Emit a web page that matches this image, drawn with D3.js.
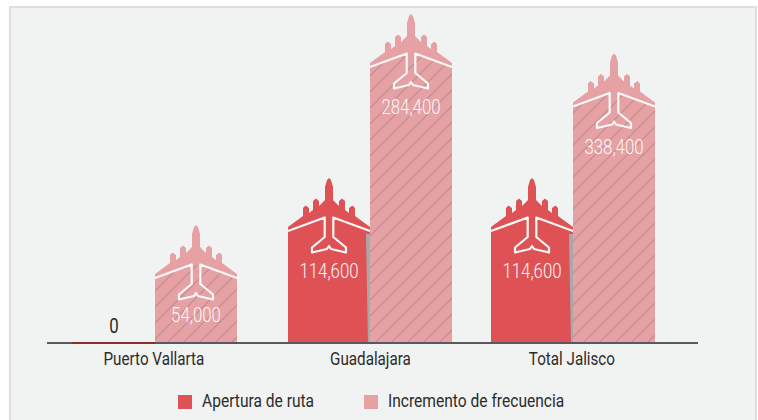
<!DOCTYPE html>
<html>
<head>
<meta charset="utf-8">
<script src="https://cdn.jsdelivr.net/npm/d3@7"></script>
<style>
  html, body { margin: 0; padding: 0; background: #fff; }
  svg { display: block; }
  text { font-family: Roboto, "Liberation Sans", sans-serif; }
</style>
</head>
<body>
<svg id="chart" width="758" height="420"></svg>
<script>
const categories = ["Puerto Vallarta", "Guadalajara", "Total Jalisco"];
const seriesNames = ["Apertura de ruta", "Incremento de frecuencia"];

// printed labels
const aperturaLabels = [0, 114600, 114600];
const incrementoLabels = [54000, 284400, 338400];

// drawn heights; the source art is not proportional to its labels
const aperturaLevels = [0, 112000, 112000];
const incrementoLevels = [65000, 276000, 236500];

const red = "#de5256";
const pink = "#e6a1a4";
const panelColor = "#f1f3f2";
const inkColor = "#2b2b2b";
const whiteInk = "#fbf8f8";

const svg = d3.select("#chart");
const baseline = 343;

// groups are not evenly spaced in the source
const x0 = d3.scaleOrdinal().domain(categories).range([155, 370, 573]);
const x1 = d3.scaleBand().domain(seriesNames).range([-82, 82]);
const y = d3.scaleLinear().domain([0, 300000]).range([baseline, baseline - 300]);
const fmt = d3.format(",");

// panel
svg.append("rect")
  .attr("x", 10).attr("y", 7).attr("width", 746).attr("height", 420)
  .attr("fill", panelColor).attr("stroke", "#dedede").attr("stroke-width", 2);

// hatch
const pattern = svg.append("defs").append("pattern")
  .attr("id", "hatch")
  .attr("patternUnits", "userSpaceOnUse")
  .attr("patternTransform", "translate(14,0)")
  .attr("width", 16).attr("height", 16);
pattern.append("path")
  .attr("d", "M-4,4L4,-4M0,16L16,0M12,20L20,12")
  .attr("stroke", "#b98b8f").attr("stroke-width", 1.1).attr("fill", "none");

// plane parts, relative to bar center and wing tip height
const halfW = 41;
const silhouette = [[-41, -4], [-26, -15], [-26, -23], [-23.5, -25.5], [-20, -23], [-20, -18], [-16, -21], [-16, -30], [-13, -32.5], [-10, -30], [-10, -25], [-4, -31], [-4, -44], [-2, -51], [0, -53]];
const outline = [[-41, 0], [-4.3, -13.5], [-4.3, 6], [-17, 16.5], [-17, 21.5], [-2, 18], [0, 15]];
const hatchTop = [[-41, 0], [-4, -13], [4, -13], [41, 0]];
const mirror = pts => pts.concat(pts.slice(0, -1).reverse().map(p => [-p[0], p[1]]));
const line = d3.line();

function drawBar(g, cx, level, color, hatched) {
  const top = y(level);
  const shift = pts => pts.map(p => [cx + p[0], top + p[1]]);
  const foot = "L" + (cx + halfW) + "," + baseline + "L" + (cx - halfW) + "," + baseline + "Z";
  g.append("path")
    .attr("d", line(shift(mirror(silhouette))) + foot)
    .attr("fill", color);
  if (hatched) {
    g.append("path")
      .attr("d", line(shift(hatchTop)) + foot)
      .attr("fill", "url(#hatch)");
  }
  g.append("path")
    .attr("d", line(shift(mirror(outline))))
    .attr("fill", "none")
    .attr("stroke", whiteInk)
    .attr("stroke-width", 2.2)
    .attr("stroke-linejoin", "round");
}

const plot = svg.append("g");

// pink first so the gray edge of the red bar sits over it
categories.forEach((c, i) => {
  drawBar(plot, x0(c) + x1(seriesNames[1]) + x1.bandwidth() / 2, incrementoLevels[i], pink, true);
});

categories.forEach((c, i) => {
  const cx = x0(c) + x1(seriesNames[0]) + x1.bandwidth() / 2;
  if (aperturaLevels[i] > 0) {
    const top = y(aperturaLevels[i]);
    drawBar(plot, cx, aperturaLevels[i], red, false);
    // gray sliver on the right edge of the red bars
    plot.append("path")
      .attr("d", "M" + (cx + 37) + "," + (top + 3) + "L" + (cx + 41) + "," + (top + 3) + "L" + (cx + 41) + "," + baseline + "L" + (cx + 39) + "," + baseline + "Z")
      .attr("fill", "#a9a9ab");
  }
});

// baseline and axis labels
const axis = svg.append("g")
  .attr("transform", "translate(0," + baseline + ")")
  .call(d3.axisBottom(x0).tickSize(0).tickPadding(9));
axis.select(".domain").remove();
axis.selectAll("text")
  .attr("font-size", 19)
  .attr("font-family", null)
  .attr("fill", inkColor)
  .attr("dx", (d, i) => i === 1 ? 0 : -2)
  .attr("transform", "scale(0.8,1)");

svg.append("line")
  .attr("x1", 47).attr("x2", 698).attr("y1", baseline).attr("y2", baseline)
  .attr("stroke", "#58595b").attr("stroke-width", 2);

// zero bar shows up as a dark line on the axis
svg.append("line")
  .attr("x1", x0(categories[0]) - 83).attr("x2", x0(categories[0]))
  .attr("y1", baseline).attr("y2", baseline)
  .attr("stroke", "#8a2c2e").attr("stroke-width", 2);

// narrow text, the source face is condensed
function squeezed(px, py, sx, size, weight, color, anchor, str) {
  svg.append("text")
    .attr("transform", "translate(" + px + "," + py + ") scale(" + sx + ",1)")
    .attr("text-anchor", anchor)
    .attr("font-size", size)
    .attr("font-weight", weight)
    .attr("fill", color)
    .text(str);
}

// value labels
categories.forEach((c, i) => {
  const cxA = x0(c) + x1(seriesNames[0]) + x1.bandwidth() / 2;
  const cxB = x0(c) + x1(seriesNames[1]) + x1.bandwidth() / 2;
  const isZero = aperturaLabels[i] === 0;
  squeezed(cxA, isZero ? baseline - 10 : y(aperturaLevels[i]) + 47, 0.8, 21, isZero ? 400 : 300,
    isZero ? inkColor : whiteInk, "middle", fmt(aperturaLabels[i]));
  const offset = incrementoLevels[i] < 100000 ? 44 : 47;
  squeezed(cxB, y(incrementoLevels[i]) + offset, 0.8, 21, 300, whiteInk, "middle", fmt(incrementoLabels[i]));
});

// legend
const legendX = d3.scaleOrdinal().domain(seriesNames).range([178, 364]);
const legendColor = d3.scaleOrdinal().domain(seriesNames).range([red, pink]);
seriesNames.forEach(name => {
  squeezed(legendX(name) + 24, 407, 0.82, 19, 400, inkColor, "start", name);
  svg.append("rect")
    .attr("x", legendX(name)).attr("y", 395)
    .attr("width", 14).attr("height", 14)
    .attr("fill", legendColor(name));
});
</script>
</body>
</html>
